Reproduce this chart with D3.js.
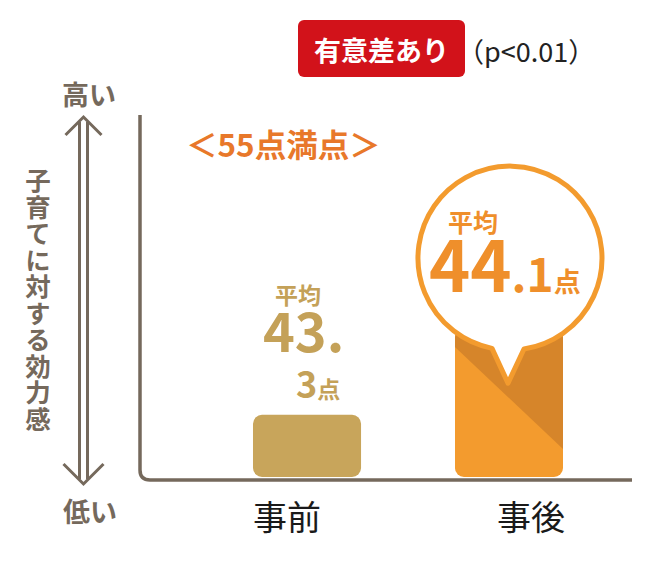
<!DOCTYPE html>
<html><head><meta charset="utf-8">
<script src="https://cdn.jsdelivr.net/npm/d3@7/dist/d3.min.js"></script>
<style>
html,body{margin:0;padding:0;background:#fff;}
svg{display:block;}
text{font-family:"Noto Sans CJK JP","Noto Sans",sans-serif;}
</style></head>
<body>
<script>
// ---- data ----
const categories = ["事前", "事後"];
const values = [43.3, 44.1];
const valueLabels = ["43.3", "44.1"];
const yDomain = [42.72, 46.07];
const axisTitle = "子育てに対する効力感";
const axisHigh = "高い";
const axisLow = "低い";
const badgeText = "有意差あり";
const pText = "（p<0.01）";
const maxNote = "＜55点満点＞";
const avgWord = "平均";
const unitWord = "点";

const W = 650, H = 569;
const svg = d3.select("body").append("svg").attr("width", W).attr("height", H);

const x = d3.scaleBand().domain(categories).range([202.5, 613.5]).paddingInner(0.465).paddingOuter(0.25);
const y = d3.scaleLinear().domain(yDomain).range([477, 118]);

const axisColor = "#75695c";
const gold = "#c8a55b", goldText = "#c4a158";
const orange = "#f39b2e", orangeDark = "#d6852a", orangeText = "#ef8f2b";

// ---- red badge ----
svg.append("rect").attr("x", 298).attr("y", 20).attr("width", 167).attr("height", 57).attr("rx", 6).attr("fill", "#d2121a");
svg.append("text").attr("x", 381.5).attr("y", 49).attr("text-anchor", "middle").attr("dominant-baseline", "central")
  .attr("font-size", 27).attr("font-weight", 700).attr("fill", "#fff").text(badgeText);
svg.append("text").attr("x", 457).attr("y", 50).attr("dominant-baseline", "central")
  .attr("font-size", 27).attr("fill", "#222").text(pText);

// ---- max note ----
svg.append("text").attr("x", 186).attr("y", 143).attr("dominant-baseline", "central")
  .attr("font-size", 31.5).attr("font-weight", 700).attr("fill", "#e8782a").text(maxNote);

// ---- axis lines ----
svg.append("path").attr("d", `M140,115 V470 Q140,480 150,480 H632`)
  .attr("fill", "none").attr("stroke", axisColor).attr("stroke-width", 3.5);

// ---- double arrow ----
const ax = 83.5, aTop = 117, aBot = 484;
const arrow = svg.append("g").attr("fill", "none").attr("stroke", axisColor).attr("stroke-width", 3).attr("stroke-linejoin", "miter");
arrow.append("line").attr("x1", ax - 4).attr("x2", ax - 4).attr("y1", aTop + 5).attr("y2", aBot - 5);
arrow.append("line").attr("x1", ax + 4).attr("x2", ax + 4).attr("y1", aTop + 5).attr("y2", aBot - 5);
arrow.append("path").attr("d", `M${ax - 18},${aTop + 18} L${ax},${aTop} L${ax + 18},${aTop + 18}`);
arrow.append("path").attr("d", `M${ax - 20},${aBot - 20} L${ax},${aBot} L${ax + 20},${aBot - 20}`);

svg.append("text").attr("x", 89).attr("y", 93).attr("text-anchor", "middle").attr("dominant-baseline", "central")
  .attr("font-size", 27).attr("font-weight", 700).attr("fill", axisColor).text(axisHigh);
svg.append("text").attr("x", 90).attr("y", 510).attr("text-anchor", "middle").attr("dominant-baseline", "central")
  .attr("font-size", 27).attr("font-weight", 700).attr("fill", axisColor).text(axisLow);

// vertical axis title (single vertical text)
svg.append("text").attr("x", 38).attr("y", 168)
  .style("writing-mode", "vertical-rl").style("text-orientation", "upright")
  .attr("letter-spacing", 1)
  .attr("font-size", 25.5).attr("font-weight", 700).attr("fill", axisColor).text(axisTitle);

// ---- bars ----
const bw = x.bandwidth();
const defs = svg.append("defs");
categories.forEach((c, i) => {
  defs.append("clipPath").attr("id", "clip" + i).append("rect")
    .attr("x", x(c)).attr("y", y(values[i])).attr("width", bw).attr("height", y.range()[0] - y(values[i])).attr("rx", 9);
});

// before bar
svg.append("rect").attr("x", x(categories[0])).attr("y", y(values[0]))
  .attr("width", bw).attr("height", y.range()[0] - y(values[0])).attr("rx", 9).attr("fill", gold);

// after bar (light + dark diagonal)
const g1 = svg.append("g").attr("clip-path", "url(#clip1)");
const bx = x(categories[1]), by = y(values[1]);
g1.append("rect").attr("x", bx).attr("y", by).attr("width", bw).attr("height", y.range()[0] - by).attr("fill", orange);
g1.append("path").attr("d", `M${bx},${by} L${bx},347 L${bx + bw},449 L${bx + bw},${by} Z`).attr("fill", orangeDark);

// bubble
const cx = bx + bw / 2 + 1, cy = by - 71, r = 92;
const tipX = cx - 2, tipY = by + 54;
const shL = [cx - 18, cy + Math.sqrt(r * r - 18 * 18)];
const shR = [cx + 14, cy + Math.sqrt(r * r - 14 * 14)];
svg.append("path")
  .attr("d", `M${shR[0]},${shR[1]} A${r},${r} 0 1 0 ${shL[0]},${shL[1]} L${tipX},${tipY} Z`)
  .attr("fill", "#fff").attr("stroke", orange).attr("stroke-width", 5).attr("stroke-linejoin", "round");

// ---- labels ----
// before
const v0 = valueLabels[0].split(".");
svg.append("text").attr("x", 298).attr("y", 294).attr("text-anchor", "middle").attr("dominant-baseline", "central")
  .attr("font-size", 23).attr("font-weight", 700).attr("fill", goldText).text(avgWord);
svg.append("text").attr("x", 263).attr("y", 352)
  .attr("font-size", 54).attr("font-weight", 700).attr("fill", goldText).text(v0[0] + ".");
const t0 = svg.append("text").attr("x", 296).attr("y", 398).attr("font-weight", 700).attr("fill", goldText);
t0.append("tspan").attr("font-size", 36).text(v0[1]);
t0.append("tspan").attr("font-size", 23).text(unitWord);

// after
const v1 = valueLabels[1].split(".");
svg.append("text").attr("x", 473).attr("y", 221).attr("text-anchor", "middle").attr("dominant-baseline", "central")
  .attr("font-size", 25).attr("font-weight", 700).attr("fill", orangeText).text(avgWord);
const t1 = svg.append("text").attr("x", 429).attr("y", 292).attr("font-weight", 700).attr("fill", orangeText);
t1.append("tspan").attr("font-size", 70).text(v1[0]);
t1.append("tspan").attr("font-size", 46).text("." + v1[1]);
t1.append("tspan").attr("font-size", 27).text(unitWord);

// ---- category labels ----
const labelShift = [-20, 22];
svg.append("g").selectAll("text").data(categories).join("text")
  .attr("x", (d, i) => x(d) + bw / 2 + labelShift[i]).attr("y", 515)
  .attr("text-anchor", "middle").attr("dominant-baseline", "central")
  .attr("font-size", 34).attr("fill", "#1a1a1a").text(d => d);
</script>
</body></html>
